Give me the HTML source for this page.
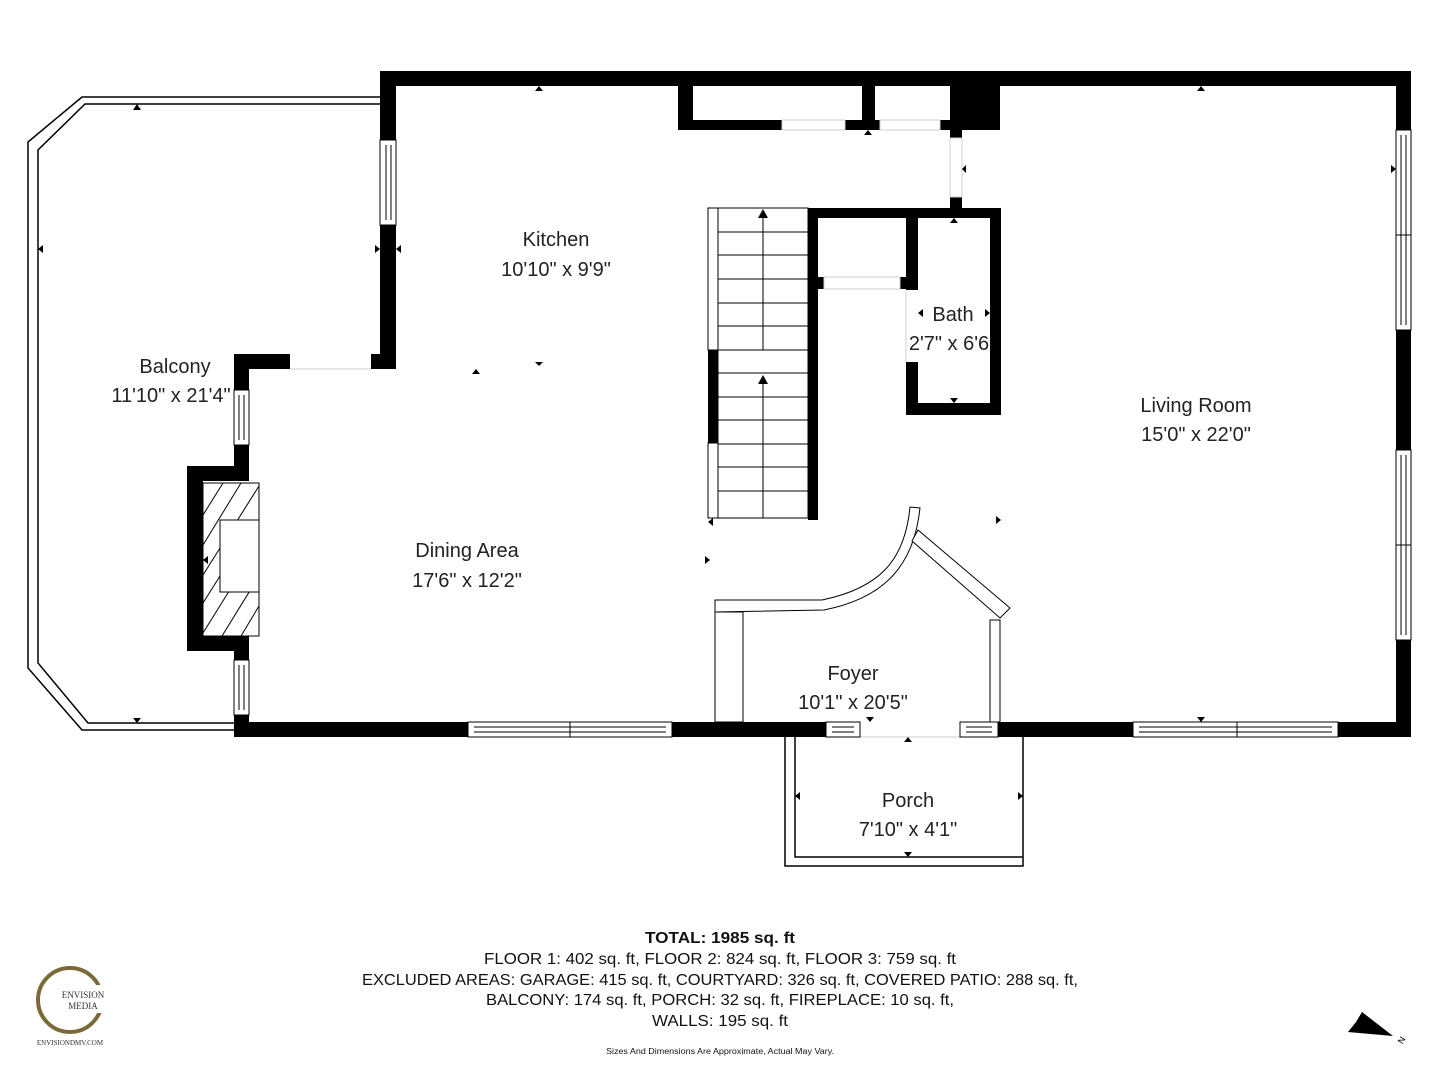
<!DOCTYPE html>
<html><head><meta charset="utf-8"><style>
html,body{margin:0;padding:0;background:#fff;}
svg{display:block;}
.l{font-family:"Liberation Sans",sans-serif;font-size:20px;fill:#222;}
.b{font-family:"Liberation Sans Narrow","Liberation Sans",sans-serif;font-size:16px;fill:#111;}
</style></head><body>
<svg width="1440" height="1080" viewBox="0 0 1440 1080" xmlns="http://www.w3.org/2000/svg">
<polyline points="380,97 82,97 28,142 28,668 82,730 234,730" fill="none" stroke="#000" stroke-width="1.5"/>
<polyline points="380,104 85,104 38,150 38,663 88,723 234,723" fill="none" stroke="#000" stroke-width="1.5"/>
<polyline points="785,737 785,866 1023,866 1023,737" fill="none" stroke="#000" stroke-width="1.5"/>
<polyline points="795,737 795,857 1023,857" fill="none" stroke="#000" stroke-width="1.5"/>
<line x1="860" y1="737" x2="960" y2="737" stroke="#ccc" stroke-width="1"/>
<g fill="#000">
<rect x="380" y="71" width="1031" height="15"/>
<rect x="1396" y="71" width="15" height="59"/>
<rect x="1396" y="330" width="15" height="120"/>
<rect x="1396" y="640" width="15" height="97"/>
<rect x="380" y="71" width="16" height="69"/>
<rect x="380" y="225" width="16" height="144"/>
<rect x="371" y="354" width="25" height="15"/>
<rect x="234" y="354" width="56" height="15"/>
<rect x="234" y="354" width="15" height="36"/>
<rect x="234" y="445" width="15" height="21"/>
<rect x="187" y="466" width="62" height="15"/>
<rect x="187" y="466" width="16" height="185"/>
<rect x="187" y="636" width="62" height="15"/>
<rect x="234" y="636" width="15" height="24"/>
<rect x="234" y="715" width="15" height="22"/>
<rect x="234" y="722" width="234" height="15"/>
<rect x="672" y="722" width="154" height="15"/>
<rect x="998" y="722" width="135" height="15"/>
<rect x="1338" y="722" width="73" height="15"/>
<rect x="678" y="86" width="15" height="44"/>
<rect x="678" y="120" width="104" height="10"/>
<rect x="845" y="120" width="35" height="10"/>
<rect x="862" y="86" width="13" height="44"/>
<rect x="940" y="120" width="20" height="10"/>
<rect x="950" y="71" width="50" height="59"/>
<rect x="950" y="130" width="12" height="8"/>
<rect x="950" y="197" width="12" height="11"/>
<rect x="808" y="208" width="193" height="10"/>
<rect x="808" y="208" width="10" height="312"/>
<rect x="906" y="208" width="12" height="82"/>
<rect x="818" y="277" width="6" height="12"/>
<rect x="900" y="277" width="6" height="12"/>
<rect x="906" y="362" width="12" height="53"/>
<rect x="906" y="403" width="95" height="12"/>
<rect x="990" y="208" width="11" height="207"/>
<rect x="708" y="350" width="10" height="93"/>
</g>
<g fill="none" stroke="#000" stroke-width="1">
<rect x="380" y="140" width="16" height="85"/><line x1="386" y1="145" x2="386" y2="220"/><line x1="391" y1="145" x2="391" y2="220"/>
<rect x="234" y="390" width="15" height="55"/><line x1="239" y1="395" x2="239" y2="440"/><line x1="244" y1="395" x2="244" y2="440"/>
<rect x="234" y="660" width="15" height="55"/><line x1="239" y1="665" x2="239" y2="710"/><line x1="244" y1="665" x2="244" y2="710"/>
<rect x="1396" y="130" width="15" height="105"/><rect x="1396" y="235" width="15" height="95"/>
<line x1="1401" y1="135" x2="1401" y2="325"/><line x1="1406" y1="135" x2="1406" y2="325"/>
<rect x="1396" y="450" width="15" height="95"/><rect x="1396" y="545" width="15" height="95"/>
<line x1="1401" y1="455" x2="1401" y2="635"/><line x1="1406" y1="455" x2="1406" y2="635"/>
<rect x="468" y="722" width="102" height="15"/><rect x="570" y="722" width="102" height="15"/>
<line x1="474" y1="727" x2="666" y2="727"/><line x1="474" y1="732" x2="666" y2="732"/>
<rect x="1133" y="722" width="104" height="15"/><rect x="1237" y="722" width="101" height="15"/>
<line x1="1139" y1="727" x2="1332" y2="727"/><line x1="1139" y1="732" x2="1332" y2="732"/>
<rect x="826" y="722" width="34" height="15"/><line x1="832" y1="727" x2="854" y2="727"/><line x1="832" y1="732" x2="854" y2="732"/>
<rect x="960" y="722" width="38" height="15"/><line x1="966" y1="727" x2="992" y2="727"/><line x1="966" y1="732" x2="992" y2="732"/>
<rect x="782" y="120" width="63" height="10" stroke="#ccc"/>
<rect x="880" y="120" width="60" height="10" stroke="#ccc"/>
<rect x="950" y="138" width="12" height="59" stroke="#ccc"/>
<rect x="824" y="277" width="76" height="12" stroke="#ccc"/>
<line x1="290" y1="369" x2="371" y2="369" stroke="#ccc"/>
<line x1="906" y1="290" x2="906" y2="362" stroke="#ccc"/>
<rect x="708" y="208" width="10" height="142"/>
<rect x="708" y="443" width="10" height="75"/>
<rect x="718" y="208" width="90" height="310"/>
<line x1="718" y1="232" x2="808" y2="232"/><line x1="718" y1="255" x2="808" y2="255"/><line x1="718" y1="279" x2="808" y2="279"/>
<line x1="718" y1="303" x2="808" y2="303"/><line x1="718" y1="326" x2="808" y2="326"/><line x1="718" y1="350" x2="808" y2="350"/>
<line x1="718" y1="373" x2="808" y2="373"/><line x1="718" y1="397" x2="808" y2="397"/><line x1="718" y1="420" x2="808" y2="420"/>
<line x1="718" y1="444" x2="808" y2="444"/><line x1="718" y1="467" x2="808" y2="467"/><line x1="718" y1="491" x2="808" y2="491"/>
<line x1="763" y1="215" x2="763" y2="350"/><line x1="763" y1="381" x2="763" y2="518"/>
<rect x="203" y="483" width="56" height="153"/>
<path d="M715,600 L822,600 C880,588 905,560 910,507 L920,508 C914,565 885,598 824,610 L715,612 Z" fill="#fff"/>
<rect x="715" y="612" width="28" height="110" fill="#fff"/>
<path d="M918,530 L1010,608 L1000,618 L912,541 Z" fill="#fff"/>
<rect x="990" y="620" width="10" height="102" fill="#fff"/>
</g>
<g stroke="#000" stroke-width="1">
<line x1="203" y1="515" x2="223" y2="483"/><line x1="203" y1="545" x2="241" y2="483"/><line x1="220" y1="548" x2="259" y2="486"/>
<line x1="203" y1="603" x2="220" y2="576"/><line x1="203" y1="633" x2="259" y2="543"/><line x1="222" y1="636" x2="259" y2="576"/><line x1="241" y1="636" x2="259" y2="606"/>
<line x1="203" y1="575" x2="220" y2="548"/>
</g>
<rect x="220" y="520" width="39" height="72" fill="#fff" stroke="#000" stroke-width="1"/>
<g fill="#000">
<polygon points="763,209 758,218 768,218"/><polygon points="763,375 758,384 768,384"/>
<polygon points="1393,1036 1348,1032 1356,1022 1362,1012"/>
</g>
<g fill="#000">
<polygon points="539,86 535,91 543,91"/><polygon points="1201,86 1197,91 1205,91"/>
<polygon points="137,104 133,110 141,110"/><polygon points="137,723 133,718 141,718"/>
<polygon points="38,249 43,245 43,253"/><polygon points="380,249 375,245 375,253"/><polygon points="396,249 401,245 401,253"/>
<polygon points="476,369 472,374 480,374"/><polygon points="539,366 535,362 543,362"/>
<polygon points="708,522 713,518 713,526"/><polygon points="710,560 705,556 705,564"/>
<polygon points="1001,520 996,516 996,524"/><polygon points="1396,169 1391,165 1391,173"/>
<polygon points="1201,722 1197,717 1205,717"/><polygon points="908,737 904,742 912,742"/>
<polygon points="908,857 904,852 912,852"/><polygon points="795,796 800,792 800,800"/><polygon points="1023,796 1018,792 1018,800"/>
<polygon points="870,722 866,717 874,717"/><polygon points="954,218 950,223 958,223"/><polygon points="954,403 950,398 958,398"/>
<polygon points="962,169 966,165 966,173"/><polygon points="868,130 864,135 872,135"/>
<polygon points="918,313 923,309 923,317"/><polygon points="990,313 985,309 985,317"/><polygon points="203,560 208,556 208,564"/>
</g>
<g class="l" text-anchor="middle">
<text x="556" y="246">Kitchen</text><text x="556" y="276">10'10" x 9'9"</text>
<text x="953" y="321">Bath</text><text x="949" y="350">2'7" x 6'6</text>
<text x="175" y="373">Balcony</text><text x="171" y="402">11'10" x 21'4"</text>
<text x="1196" y="412">Living Room</text><text x="1196" y="441">15'0" x 22'0"</text>
<text x="467" y="557">Dining Area</text><text x="467" y="587">17'6" x 12'2"</text>
<text x="853" y="680">Foyer</text><text x="853" y="709">10'1" x 20'5"</text>
<text x="908" y="807">Porch</text><text x="908" y="836">7'10" x 4'1"</text>
</g>
<g class="b" text-anchor="middle">
<text x="720" y="943" font-weight="bold" textLength="150" lengthAdjust="spacingAndGlyphs">TOTAL: 1985 sq. ft</text>
<text x="720" y="964" textLength="472" lengthAdjust="spacingAndGlyphs">FLOOR 1: 402 sq. ft, FLOOR 2: 824 sq. ft, FLOOR 3: 759 sq. ft</text>
<text x="720" y="985" textLength="716" lengthAdjust="spacingAndGlyphs">EXCLUDED AREAS: GARAGE: 415 sq. ft, COURTYARD: 326 sq. ft, COVERED PATIO: 288 sq. ft,</text>
<text x="720" y="1005" textLength="468" lengthAdjust="spacingAndGlyphs">BALCONY: 174 sq. ft, PORCH: 32 sq. ft, FIREPLACE: 10 sq. ft,</text>
<text x="720" y="1026" textLength="136" lengthAdjust="spacingAndGlyphs">WALLS: 195 sq. ft</text>
<text x="720" y="1054" font-size="8" textLength="228" lengthAdjust="spacingAndGlyphs">Sizes And Dimensions Are Approximate, Actual May Vary.</text>
</g>
<text x="1400" y="1046" font-family="Liberation Sans,sans-serif" font-size="9" transform="rotate(-60 1400 1043)">N</text>
<circle cx="70" cy="1000" r="32" fill="none" stroke="#7a6a3a" stroke-width="4"/>
<rect x="60" y="985" width="46" height="28" fill="#fff"/>
<text x="83" y="998" font-family="Liberation Serif,serif" font-size="9" fill="#333" text-anchor="middle">ENVISION</text>
<text x="83" y="1009" font-family="Liberation Serif,serif" font-size="9" fill="#333" text-anchor="middle">MEDIA</text>
<text x="70" y="1045" font-family="Liberation Serif,serif" font-size="7" fill="#333" text-anchor="middle">ENVISIONDMV.COM</text>
</svg>
</body></html>
